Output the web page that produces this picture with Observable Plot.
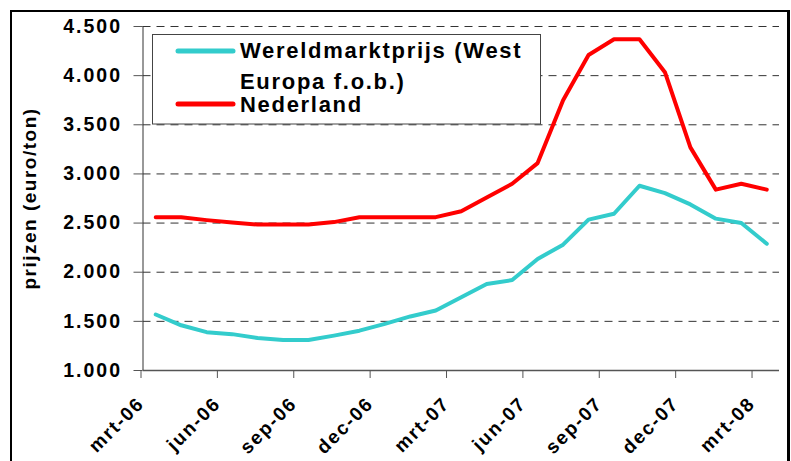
<!DOCTYPE html>
<html>
<head>
<meta charset="utf-8">
<script src="https://cdn.jsdelivr.net/npm/d3@7"></script>
<script src="https://cdn.jsdelivr.net/npm/@observablehq/plot@0.6"></script>
<style>
  html, body { margin: 0; padding: 0; background: #fff; overflow: hidden; }
  #wrap { position: relative; width: 791px; height: 461px; overflow: hidden; }
  #frame { position: absolute; left: 10px; top: 10px; width: 775px; height: 500px; border: 2px solid #000; border-right-width: 3px; }
  #chart { position: absolute; left: 0; top: 0; }
  #chart svg g[aria-label="y-axis tick label"] text { letter-spacing: 2px; font-size: 19.5px; }
  #chart svg g[aria-label="x-axis tick label"] text { letter-spacing: 1.8px; font-size: 19px; }
  #chart svg g[aria-label="text"] text { letter-spacing: 1.5px; font-size: 19px; }
  #legend { position: absolute; left: 0; top: 0; }
</style>
</head>
<body>
<div id="wrap">
  <div id="frame"></div>
  <div id="chart"></div>
  <svg id="legend" width="791" height="461"></svg>
</div>
<script>
const months = ["mrt-06","apr-06","mei-06","jun-06","jul-06","aug-06","sep-06","okt-06","nov-06","dec-06","jan-07","feb-07",
                "mrt-07","apr-07","mei-07","jun-07","jul-07","aug-07","sep-07","okt-07","nov-07","dec-07","jan-08","feb-08","mrt-08"];
const wereldmarkt = [1570,1460,1390,1370,1330,1310,1310,1355,1405,1475,1550,1610,
                     1745,1880,1920,2135,2280,2535,2595,2880,2805,2690,2545,2500,2290];
const nederland = [2560,2560,2530,2505,2485,2485,2485,2510,2560,2560,2560,2560,
                   2620,2760,2900,3110,3750,4210,4370,4370,4035,3270,2840,2900,2840];
const yTicks = [1000,1500,2000,2500,3000,3500,4000,4500];
const xTickIdx = [0,3,6,9,12,15,18,21,24];
const seriesNames = ["Wereldmarktprijs (West Europa f.o.b.)", "Nederland"];
const seriesColors = ["#33CCCC", "#FF0000"];

const nl = d3.formatLocale({decimal: ",", thousands: ".", grouping: [3], currency: ["€", ""]});
const fmt = nl.format(",");

const rows = months.map((m, i) => ({i, month: m, w: wereldmarkt[i], n: nederland[i]}));

const chart = Plot.plot({
  width: 791,
  height: 461,
  marginLeft: 142.5,
  marginRight: 12,
  marginTop: 26,
  marginBottom: 91,
  style: {fontFamily: "'Liberation Sans', Arial, sans-serif", fontWeight: "bold", background: "transparent", overflow: "visible", color: "#000"},
  x: {type: "linear", domain: [0, months.length], axis: null},
  y: {domain: [1000, 4500], axis: null},
  marks: [
    Plot.ruleY(yTicks.slice(1), {stroke: "#333", strokeDasharray: "8,6", strokeWidth: 1}),
    Plot.ruleY([1000], {stroke: "#555", strokeWidth: 1.5}),
    Plot.ruleX([0], {stroke: "#333", strokeWidth: 1}),
    Plot.axisY(yTicks, {tickSize: 9, tickPadding: 12, tickFormat: fmt, fontSize: 19.5, stroke: "#555", fill: "#000", label: null}),
    Plot.axisX(xTickIdx, {tickSize: 8, tickPadding: 22, tickRotate: -45, tickFormat: i => months[i], fontSize: 19, stroke: "#555", fill: "#000", label: null, dx: -2}),
    Plot.text(["prijzen (euro/ton)"], {frameAnchor: "left", textAnchor: "middle", rotate: -90, dx: -113, fontSize: 19, fill: "#000", fontWeight: "bold"}),
    Plot.line(rows, {x: d => d.i + 0.5, y: "w", stroke: seriesColors[0], strokeWidth: 4, strokeLinejoin: "round", strokeLinecap: "round"}),
    Plot.line(rows, {x: d => d.i + 0.5, y: "n", stroke: seriesColors[1], strokeWidth: 4, strokeLinejoin: "round", strokeLinecap: "round"})
  ]
});
document.getElementById("chart").appendChild(chart);

// legend
const lg = d3.select("#legend");
lg.append("rect").attr("x", 152.5).attr("y", 34.5).attr("width", 388).attr("height", 89.5)
  .attr("fill", "#fff").attr("stroke", "#444").attr("stroke-width", 1);
const entries = [
  {color: seriesColors[0], lines: ["Wereldmarktprijs (West", "Europa f.o.b.)"], ly: 51, ty: [58, 89]},
  {color: seriesColors[1], lines: ["Nederland"], ly: 104, ty: [111.5]}
];
entries.forEach(e => {
  lg.append("line").attr("x1", 178).attr("x2", 233).attr("y1", e.ly).attr("y2", e.ly)
    .attr("stroke", e.color).attr("stroke-width", 5).attr("stroke-linecap", "round");
  e.lines.forEach((t, k) => {
    lg.append("text").attr("x", 240).attr("y", e.ty[k]).text(t)
      .attr("font-family", "'Liberation Sans', Arial, sans-serif").attr("font-weight", "bold")
      .attr("font-size", 22).attr("letter-spacing", "1.7px").attr("fill", "#000");
  });
});
</script>
</body>
</html>
